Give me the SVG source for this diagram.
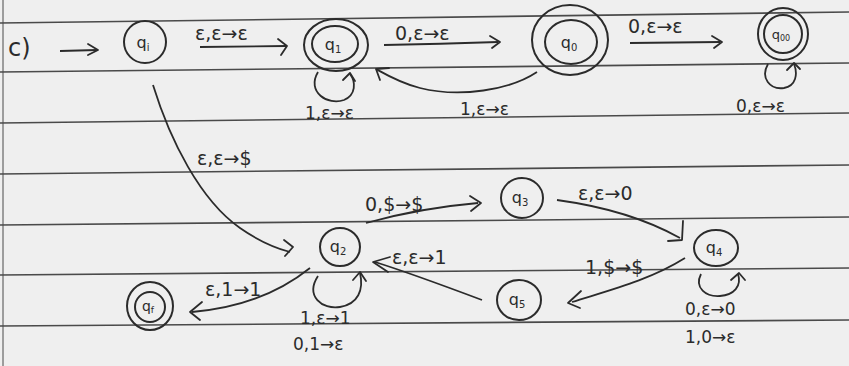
<svg xmlns="http://www.w3.org/2000/svg" width="849" height="366" viewBox="0 0 849 366">
<defs>
<style>
.paper{fill:#efefef}
.rule{stroke:#4a4a4a;stroke-width:1.6;fill:none}
.st{fill:none;stroke:#2b2b2b;stroke-width:2}
.ed{fill:none;stroke:#2b2b2b;stroke-width:1.8}
.ah{fill:none;stroke:#2b2b2b;stroke-width:1.8;stroke-linecap:round;stroke-linejoin:round}
.lb{font-family:"DejaVu Sans",sans-serif;font-size:19px;fill:#2b2b2b}
.nd{font-family:"DejaVu Sans",sans-serif;font-size:16px;fill:#2b2b2b;text-anchor:middle}
.sb{font-size:10px}
</style>
</defs>
<rect class="paper" x="0" y="0" width="849" height="366"/>
<g id="rules">
<line class="rule" x1="0" y1="23" x2="849" y2="12"/>
<line class="rule" x1="0" y1="72" x2="849" y2="63"/>
<line class="rule" x1="0" y1="123" x2="849" y2="113"/>
<line class="rule" x1="0" y1="174" x2="849" y2="165"/>
<line class="rule" x1="0" y1="225" x2="849" y2="217"/>
<line class="rule" x1="0" y1="275" x2="849" y2="268"/>
<line class="rule" x1="0" y1="326" x2="849" y2="320"/>
<line class="rule" x1="3" y1="0" x2="3" y2="366" style="stroke-width:1"/>
</g>
<g id="label-c"><text class="lb" x="8" y="56" style="font-size:24px">c)</text></g>
<g id="q_i"><ellipse class="st" cx="145" cy="42" rx="21" ry="21"/><text class="nd" x="143" y="48">q<tspan class="sb" dy="3">i</tspan></text></g>
<g id="q_1"><ellipse class="st" cx="336" cy="45" rx="32" ry="26"/><ellipse class="st" cx="335" cy="44" rx="23" ry="18"/><text class="nd" x="333" y="50">q<tspan class="sb" dy="3">1</tspan></text></g>
<g id="q_0"><ellipse class="st" cx="570" cy="40" rx="38" ry="35"/><ellipse class="st" cx="571" cy="42" rx="26" ry="22"/><text class="nd" x="569" y="48">q<tspan class="sb" dy="3">0</tspan></text></g>
<g id="q_00"><ellipse class="st" cx="783" cy="34" rx="25" ry="26"/><ellipse class="st" cx="783" cy="34" rx="19" ry="19"/><text class="nd" x="781" y="39" style="font-size:13px">q<tspan class="sb" dy="2" style="font-size:8px">00</tspan></text></g>
<g id="q_2"><ellipse class="st" cx="340" cy="247" rx="20" ry="19"/><text class="nd" x="338" y="252">q<tspan class="sb" dy="3">2</tspan></text></g>
<g id="q_3"><ellipse class="st" cx="522" cy="198" rx="21" ry="20"/><text class="nd" x="520" y="203">q<tspan class="sb" dy="3">3</tspan></text></g>
<g id="q_4"><ellipse class="st" cx="716" cy="248" rx="22" ry="18"/><text class="nd" x="714" y="253">q<tspan class="sb" dy="3">4</tspan></text></g>
<g id="q_5"><ellipse class="st" cx="519" cy="300" rx="22" ry="20"/><text class="nd" x="517" y="305">q<tspan class="sb" dy="3">5</tspan></text></g>
<g id="q_f"><ellipse class="st" cx="150" cy="306" rx="23" ry="24"/><ellipse class="st" cx="150" cy="307" rx="15" ry="15"/><text class="nd" x="148" y="311" style="font-size:14px">q<tspan class="sb" dy="2" style="font-size:9px">f</tspan></text></g>
<g id="connectors">
<path class="ed" d="M60 51 L97 50"/><path class="ah" d="M88 44 L98 50 L88 55"/>
<path class="ed" d="M200 47 L286 46"/><path class="ah" d="M278 39 L287 46 L281 55"/>
<path class="ed" d="M384 45 Q440 44 498 42"/><path class="ah" d="M490 36 L500 42 L492 48"/>
<path class="ed" d="M630 43 L720 42"/><path class="ah" d="M712 36 L722 42 L714 48"/>
<path class="ed" d="M318 72 C306 92 328 106 344 100 C356 95 356 82 350 74"/><path class="ah" d="M343 80 L350 73 L355 81"/>
<path class="ed" d="M537 72 C510 90 460 98 420 88 C400 83 385 74 376 69"/><path class="ah" d="M376 69 L389 68 M376 69 L380 80"/>
<path class="ed" d="M768 64 C760 78 770 90 784 88 C796 86 798 74 794 64"/><path class="ah" d="M787 70 L794 63 L800 69"/>
<path class="ed" d="M153 85 C170 140 200 200 240 228 C260 242 275 248 290 252"/><path class="ah" d="M284 240 L293 247 L285 256"/>
<path class="ed" d="M310 268 C280 292 240 308 192 312"/><path class="ah" d="M202 302 L190 312 L200 320"/>
<path class="ed" d="M318 276 C305 296 322 310 340 307 C358 304 364 290 360 273"/><path class="ah" d="M353 280 L360 272 L366 281"/>
<path class="ed" d="M366 223 Q420 208 478 203"/><path class="ah" d="M470 196 L481 203 L471 211"/>
<path class="ed" d="M557 200 Q630 210 680 238"/><path class="ah" d="M668 241 L682 240 L683 221"/>
<path class="ed" d="M685 258 C650 280 610 290 572 302"/><path class="ah" d="M581 291 L568 303 L580 308"/>
<path class="ed" d="M701 274 C694 288 706 297 720 296 C734 295 742 286 738 274"/><path class="ah" d="M731 280 L739 273 L745 280"/>
<path class="ed" d="M482 300 C450 288 410 273 375 262"/><path class="ah" d="M390 257 L373 262 L388 272"/>
</g>
<g id="labels">
<text class="lb" x="195" y="40">ε,ε→ε</text>
<text class="lb" x="395" y="40">0,ε→ε</text>
<text class="lb" x="305" y="119" style="font-size:17px">1,ε→ε</text>
<text class="lb" x="460" y="115" style="font-size:17px">1,ε→ε</text>
<text class="lb" x="628" y="33">0,ε→ε</text>
<text class="lb" x="736" y="112" style="font-size:17px">0,ε→ε</text>
<text class="lb" x="197" y="165">ε,ε→$</text>
<text class="lb" x="365" y="211">0,$→$</text>
<text class="lb" x="578" y="200">ε,ε→0</text>
<text class="lb" x="585" y="274">1,$→$</text>
<text class="lb" x="392" y="264">ε,ε→1</text>
<text class="lb" x="205" y="296">ε,1→1</text>
<text class="lb" x="300" y="324" style="font-size:17px">1,ε→1</text>
<text class="lb" x="293" y="350" style="font-size:17px">0,1→ε</text>
<text class="lb" x="685" y="315" style="font-size:17px">0,ε→0</text>
<text class="lb" x="685" y="343" style="font-size:17px">1,0→ε</text>
</g>
</svg>
